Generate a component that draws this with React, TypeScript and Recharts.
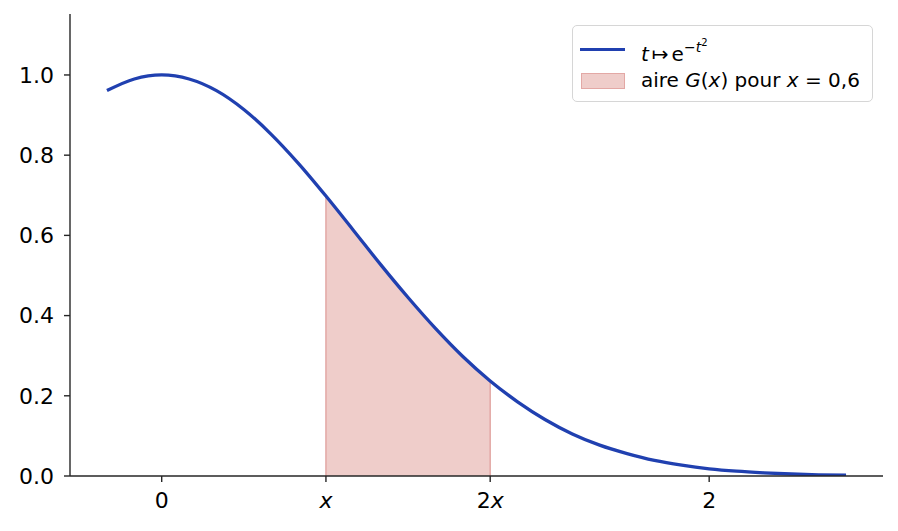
import React from "react"
import { ComposedChart, Line, Area, XAxis, YAxis, Legend } from "recharts"

// curve t -> e^(-t^2)
const tValues = [
  -0.2, -0.1, 0, 0.1, 0.2, 0.3, 0.4, 0.5, 0.6, 0.7, 0.8, 0.9, 1.0, 1.1, 1.2, 1.3, 1.4, 1.5, 1.6, 1.7,
  1.8, 1.9, 2.0, 2.1, 2.2, 2.3, 2.4, 2.5,
]
const curveValues = [
  0.961, 0.99, 1.0, 0.99, 0.961, 0.914, 0.852, 0.779, 0.698, 0.613, 0.527, 0.445, 0.368, 0.298, 0.237,
  0.185, 0.141, 0.105, 0.077, 0.056, 0.039, 0.027, 0.018, 0.012, 0.008, 0.005, 0.003, 0.002,
]

// shaded region G(x) between x = 0.6 and 2x = 1.2 (closed down to 0 at both ends)
const areaT = [0.6, 0.6, 0.7, 0.8, 0.9, 1.0, 1.1, 1.2, 1.2]
const areaValues = [0, 0.698, 0.613, 0.527, 0.445, 0.368, 0.298, 0.237, 0]

const xTicks = [0, 0.6, 1.2, 2]
const xTickLabels = ["0", "x", "2x", "2"]
const yTicks = [0, 0.2, 0.4, 0.6, 0.8, 1.0]

const curveData = tValues.map((t, i) => ({ t, y: curveValues[i] }))
const areaData = areaT.map((t, i) => ({ t, g: areaValues[i] }))

const FONT = "DejaVu Sans"
const AXIS = "#262626"
const BLUE = "#2040b0"
const FILL = "#efcdca"
const EDGE = "#e3a8a5"

const XTick = ({ x, y, payload }: any) => {
  const idx = xTicks.indexOf(payload.value)
  const label = xTickLabels[idx] ?? String(payload.value)
  return (
    <text x={x} y={y} dy="0.71em" textAnchor="middle" fontFamily={FONT} fontSize={22} fill="#000">
      {label === "x" ? (
        <tspan fontStyle="italic">x</tspan>
      ) : label === "2x" ? (
        <>
          <tspan>2</tspan>
          <tspan fontStyle="italic">x</tspan>
        </>
      ) : (
        label
      )}
    </text>
  )
}

const LegendBox = () => (
  <div
    style={{
      fontFamily: FONT,
      fontSize: 20,
      color: "#000",
      background: "rgba(255,255,255,0.8)",
      border: "1.5px solid #d6d6d6",
      borderRadius: 5,
      padding: "8px 10px 5px 7px",
      lineHeight: "25px",
      width: 282,
    }}
  >
    <div style={{ display: "flex", alignItems: "center", height: 31 }}>
      <span style={{ display: "inline-block", width: 45, height: 3.5, background: BLUE, marginRight: 16 }} />
      <span>
        <i>t</i>
        <span style={{ margin: "0 3px" }}>↦</span>e
        <sup style={{ fontSize: 14, position: "relative", top: -2 }}>
          −<i>t</i>
          <sup style={{ fontSize: 10 }}>2</sup>
        </sup>
      </span>
    </div>
    <div style={{ display: "flex", alignItems: "center", height: 31 }}>
      <span
        style={{
          display: "inline-block",
          width: 42,
          height: 14,
          background: FILL,
          border: `1.3px solid ${EDGE}`,
          marginRight: 16,
          marginLeft: 1,
        }}
      />
      <span>
        aire <i>G</i>(<i>x</i>) pour <i>x</i> = 0,6
      </span>
    </div>
  </div>
)

export default function App() {
  return (
    <div style={{ position: "absolute", left: 0, top: 0, width: 898, height: 531, background: "#fff" }}>
      <ComposedChart width={898} height={531} margin={{ top: 14, right: 15, left: 0, bottom: 0 }}>
        <XAxis
          type="number"
          dataKey="t"
          domain={[-0.335, 2.635]}
          ticks={xTicks}
          allowDataOverflow
          height={55}
          stroke={AXIS}
          strokeWidth={1.4}
          tickSize={6}
          tickMargin={10}
          tick={<XTick />}
          tickLine={{ stroke: AXIS, strokeWidth: 1.4 }}
        />
        <YAxis
          type="number"
          domain={[0, 1.152]}
          ticks={yTicks}
          allowDataOverflow
          width={70}
          stroke={AXIS}
          strokeWidth={1.4}
          tickSize={6}
          tickMargin={10}
          tickFormatter={(v: number) => v.toFixed(1)}
          tick={{ fill: "#000", fontSize: 22, fontFamily: FONT }}
          tickLine={{ stroke: AXIS, strokeWidth: 1.4 }}
        />
        <Legend
          layout="horizontal"
          verticalAlign="middle"
          align="center"
          wrapperStyle={{ top: 25, left: 572, right: "auto", bottom: "auto", width: "auto" }}
          content={<LegendBox />}
        />
        <Area
          data={areaData}
          dataKey="g"
          type="linear"
          fill={FILL}
          fillOpacity={1}
          stroke={EDGE}
          strokeWidth={1.5}
          baseValue={0}
          isAnimationActive={false}
          dot={false}
          activeDot={false}
        />
        <Line
          data={curveData}
          dataKey="y"
          type="monotone"
          stroke={BLUE}
          strokeWidth={3.3}
          dot={false}
          activeDot={false}
          isAnimationActive={false}
        />
      </ComposedChart>
    </div>
  )
}
